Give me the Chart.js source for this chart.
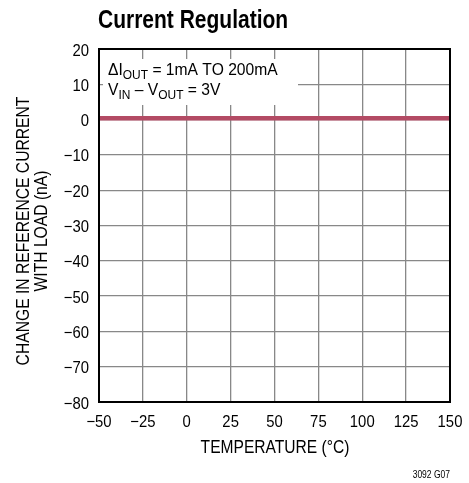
<!DOCTYPE html>
<html>
<head>
<meta charset="utf-8">
<script src="https://cdn.jsdelivr.net/npm/chart.js@4"></script>
<style>
  html, body { margin: 0; padding: 0; background: #fff; }
  #wrap { width: 469px; height: 483px; position: relative; }
</style>
</head>
<body>
<div id="wrap"><canvas id="chartReg"></canvas></div>
<script>
const temps = [-50, -25, 0, 25, 50, 75, 100, 125, 150];
const deltaCurrent = [0.4, 0.4, 0.4, 0.4, 0.4, 0.4, 0.4, 0.4, 0.4];
const xTicks = [-50, -25, 0, 25, 50, 75, 100, 125, 150];
const yTicks = [-80, -70, -60, -50, -40, -30, -20, -10, 0, 10, 20];

const FONT = "'Liberation Sans', Arial, sans-serif";
const points = temps.map((t, i) => ({ x: t, y: deltaCurrent[i] }));

function fmt(v) {
  return v < 0 ? "\u2212" + Math.abs(v) : String(v);
}

// condensed text: draw with a horizontal squeeze
function text(ctx, s, x, y, size, sx, align, bold) {
  ctx.save();
  ctx.font = (bold ? "bold " : "") + size + "px " + FONT;
  ctx.textAlign = align || "left";
  ctx.translate(x, y);
  ctx.scale(sx, 1);
  ctx.fillText(s, 0, 0);
  ctx.restore();
}

// text with subscripts: parts = [[text, isSub], ...]
function rich(ctx, parts, x, y) {
  const sx = 0.92;
  for (const [s, sub] of parts) {
    const size = sub ? 13 : 17;
    ctx.font = size + "px " + FONT;
    text(ctx, s, x, sub ? y + 3.5 : y, size, sx);
    ctx.font = size + "px " + FONT;
    x += ctx.measureText(s).width * sx;
  }
}

const decor = {
  id: "decor",
  beforeDatasetsDraw(chart) {
    const ctx = chart.ctx;
    ctx.save();
    ctx.fillStyle = "#fff";
    ctx.fillRect(103, 59, 195, 46);
    ctx.restore();
  },
  afterDraw(chart) {
    const ctx = chart.ctx;
    const a = chart.chartArea;
    const xs = chart.scales.x, ys = chart.scales.y;
    ctx.save();
    ctx.strokeStyle = "#000";
    ctx.lineWidth = 2;
    ctx.strokeRect(a.left, a.top, a.right - a.left, a.bottom - a.top);

    ctx.fillStyle = "#000";
    ctx.textBaseline = "alphabetic";

    text(ctx, "Current Regulation", 98, 28, 25, 0.84, "left", true);

    rich(ctx, [["\u0394I", false], ["OUT", true], [" = 1mA TO 200mA", false]], 108, 75);
    rich(ctx, [["V", false], ["IN", true], [" \u2013 V", false], ["OUT", true], [" = 3V", false]], 108, 95);

    for (const v of xTicks) {
      text(ctx, fmt(v), xs.getPixelForValue(v), 427, 16.5, 0.9, "center");
    }
    for (const v of yTicks) {
      text(ctx, fmt(v), 89, ys.getPixelForValue(v) + 6.5, 16.5, 0.9, "right");
    }

    text(ctx, "TEMPERATURE (\u00B0C)", (a.left + a.right) / 2 + 0.5, 453, 19, 0.82, "center");

    ctx.save();
    ctx.translate(29, 231);
    ctx.rotate(-Math.PI / 2);
    text(ctx, "CHANGE IN REFERENCE CURRENT", 0, 0, 18, 0.87, "center");
    text(ctx, "WITH LOAD (nA)", 0, 18, 18, 0.87, "center");
    ctx.restore();

    text(ctx, "3092 G07", 450, 478, 10, 0.85, "right");
    ctx.restore();
  }
};

new Chart(document.getElementById("chartReg"), {
  type: "scatter",
  data: {
    datasets: [
      {
        data: points,
        showLine: true,
        borderColor: "#b34b64",
        borderWidth: 4.5,
        pointRadius: 0,
      },
      {
        data: points,
        showLine: true,
        borderColor: "#8c0f2e",
        borderWidth: 3,
        pointRadius: 0,
      },
    ],
  },
  options: {
    responsive: true,
    maintainAspectRatio: false,
    animation: false,
    layout: { padding: { top: 49, right: 19, left: 0, bottom: 0 } },
    plugins: { legend: { display: false }, tooltip: { enabled: false } },
    scales: {
      x: {
        type: "linear",
        min: -50,
        max: 150,
        afterBuildTicks: (ax) => { ax.ticks = xTicks.map((v) => ({ value: v })); },
        afterFit: (ax) => { ax.height = 81; },
        grid: { color: "#888", lineWidth: 1.3, drawTicks: false },
        border: { display: false },
        ticks: { display: false },
      },
      y: {
        min: -80,
        max: 20,
        afterBuildTicks: (ax) => { ax.ticks = yTicks.map((v) => ({ value: v })); },
        afterFit: (ax) => { ax.width = 99; },
        grid: { color: "#888", lineWidth: 1.3, drawTicks: false },
        border: { display: false },
        ticks: { display: false },
      },
    },
  },
  plugins: [decor],
});
</script>
</body>
</html>
